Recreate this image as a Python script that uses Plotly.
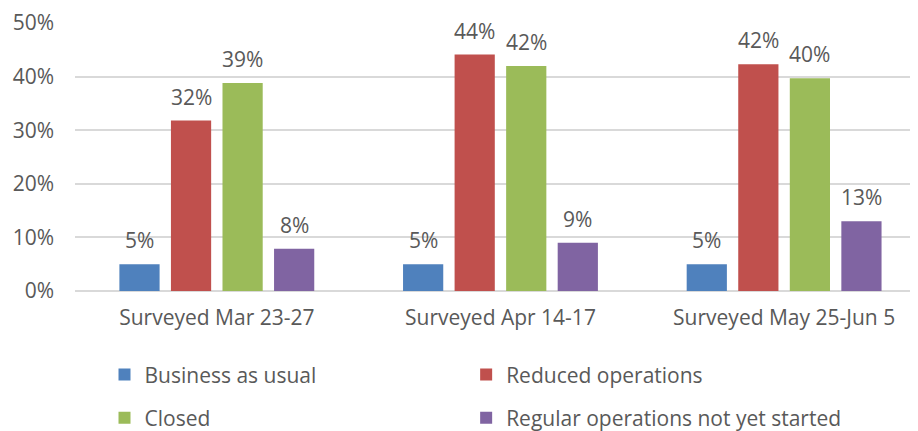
import plotly.graph_objects as go

# Survey waves (x categories)
waves = ["Surveyed Mar 23-27", "Surveyed Apr 14-17", "Surveyed May 25-Jun 5"]

# Share of respondents per status, one list per series
business_as_usual = [0.05, 0.05, 0.05]
reduced_operations = [0.318, 0.441, 0.423]
closed = [0.388, 0.420, 0.397]
not_yet_started = [0.079, 0.090, 0.130]

series_names = ["Business as usual", "Reduced operations", "Closed",
                "Regular operations not yet started"]
series_values = [business_as_usual, reduced_operations, closed, not_yet_started]
series_colours = ["#4F81BD", "#C0504D", "#9BBB59", "#8064A2"]

y_ticks = [0, 0.1, 0.2, 0.3, 0.4, 0.5]

FONT = "Open Sans"
FSIZE = 21
TEXT = "#595959"
BARGAP = 0.273
BARGROUPGAP = 0.22

# one legend box per entry so the 2x2 grid can be placed freely
legend_ids = ["legend", "legend2", "legend3", "legend4"]
legend_pos = [(0.035, -0.313), (0.464, -0.313), (0.035, -0.474), (0.464, -0.474)]

fig = go.Figure()
for name, vals, col, lid in zip(series_names, series_values, series_colours, legend_ids):
    fig.add_trace(go.Bar(
        x=waves, y=vals, name=name,
        marker=dict(color=col, line=dict(width=0)),
        legend=lid,
        hovertemplate="%{x}<br>" + name + ": %{y:.0%}<extra></extra>",
    ))

# value labels above each bar
slot = (1 - BARGAP) / len(series_values)
for i, vals in enumerate(series_values):
    for g, v in enumerate(vals):
        fig.add_annotation(
            x=g + (i - (len(series_values) - 1) / 2) * slot, y=v,
            xref="x", yref="y", text=f"{v:.0%}", showarrow=False,
            yanchor="middle", yshift=24,
            font=dict(family=FONT, size=FSIZE, color=TEXT),
        )

legends = {}
for lid, (lx, ly) in zip(legend_ids, legend_pos):
    legends[lid] = dict(
        x=lx, y=ly, orientation="h", xanchor="left", yanchor="middle",
        font=dict(family=FONT, size=FSIZE, color=TEXT),
        bgcolor="rgba(0,0,0,0)",
    )

# page body adds an 8px offset, so the figure is 8px smaller than the window
fig.update_layout(
    width=910, height=423,
    margin=dict(l=67, r=0, t=15, b=140, autoexpand=False),
    paper_bgcolor="white", plot_bgcolor="white",
    barmode="group", bargap=BARGAP, bargroupgap=BARGROUPGAP,
    font=dict(family=FONT, color=TEXT, size=FSIZE),
    showlegend=True,
    **legends,
)
fig.update_xaxes(
    range=[-0.5, 2.472], showgrid=False, showline=False, zeroline=False,
    ticks="", ticklabelstandoff=12,
    tickfont=dict(family=FONT, size=FSIZE, color=TEXT),
)
fig.update_yaxes(
    range=[0, 0.5], tickvals=y_ticks, tickformat=".0%",
    showgrid=True, gridcolor="#D9D9D9", gridwidth=1.5,
    zeroline=True, zerolinecolor="#D9D9D9", zerolinewidth=1.5,
    showline=False, ticks="", ticklabelstandoff=20,
    tickfont=dict(family=FONT, size=FSIZE, color=TEXT),
)

fig.write_html("out.html")
